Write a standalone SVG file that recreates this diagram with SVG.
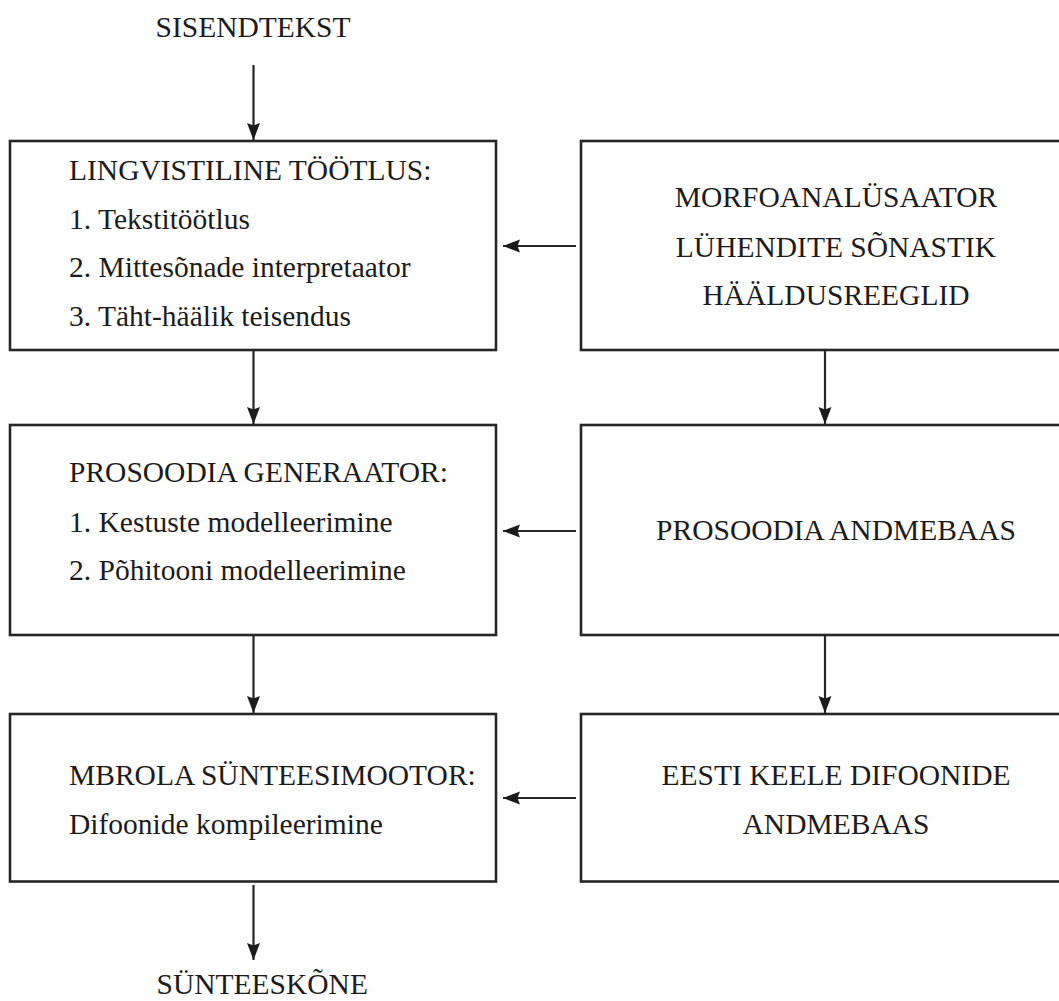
<svg xmlns="http://www.w3.org/2000/svg" width="1059" height="1001" viewBox="0 0 1059 1001">
  <style>
    .box { fill: #ffffff; stroke: #262626; stroke-width: 2.6; }
    .lbl { font-family: "Liberation Serif", "Times New Roman", serif; font-size: 29.5px; fill: #1c1c1c; }
    .mid { text-anchor: middle; }
    .conn { stroke: #262626; stroke-width: 2.2; fill: none; }
  </style>
  <defs>
    <marker id="arrow" markerUnits="userSpaceOnUse" markerWidth="18" markerHeight="14" refX="17" refY="7" orient="auto">
      <path d="M0,0.5 L17,7 L0,13.5 L2.5,7 z" fill="#1c1c1c"/>
    </marker>
  </defs>
  <rect width="1059" height="1001" fill="#ffffff"/>

  <g id="input">
    <text class="lbl" x="155.5" y="37">SISENDTEKST</text>
  </g>

  <g id="lingvistiline">
    <rect class="box" x="10" y="141" width="486" height="209"/>
    <text class="lbl" x="69" y="180">LINGVISTILINE TÖÖTLUS:</text>
    <text class="lbl" x="69" y="228.5">1. Tekstitöötlus</text>
    <text class="lbl" x="69" y="277">2. Mittesõnade interpretaator</text>
    <text class="lbl" x="69" y="325.5">3. Täht-häälik teisendus</text>
  </g>

  <g id="morfo">
    <rect class="box" x="581" y="141" width="510" height="209"/>
    <text class="lbl mid" x="836" y="207">MORFOANALÜSAATOR</text>
    <text class="lbl mid" x="836" y="256.5">LÜHENDITE SÕNASTIK</text>
    <text class="lbl mid" x="836" y="305">HÄÄLDUSREEGLID</text>
  </g>

  <g id="prosoodia-gen">
    <rect class="box" x="10" y="425" width="486" height="210"/>
    <text class="lbl" x="69" y="482">PROSOODIA GENERAATOR:</text>
    <text class="lbl" x="69" y="531.5">1. Kestuste modelleerimine</text>
    <text class="lbl" x="69" y="580">2. Põhitooni modelleerimine</text>
  </g>

  <g id="prosoodia-db">
    <rect class="box" x="581" y="425" width="510" height="210"/>
    <text class="lbl mid" x="836" y="540">PROSOODIA ANDMEBAAS</text>
  </g>

  <g id="mbrola">
    <rect class="box" x="10" y="714" width="486" height="167.5"/>
    <text class="lbl" x="69" y="785">MBROLA SÜNTEESIMOOTOR:</text>
    <text class="lbl" x="69" y="834">Difoonide kompileerimine</text>
  </g>

  <g id="difoonid">
    <rect class="box" x="581" y="714" width="510" height="167.5"/>
    <text class="lbl mid" x="836" y="785">EESTI KEELE DIFOONIDE</text>
    <text class="lbl mid" x="836" y="834">ANDMEBAAS</text>
  </g>

  <g id="output">
    <text class="lbl" x="156.5" y="994">SÜNTEESKÕNE</text>
  </g>

  <g id="connectors">
    <line class="conn" x1="253.5" y1="65" x2="253.5" y2="140" marker-end="url(#arrow)"/>
    <line class="conn" x1="253.5" y1="351" x2="253.5" y2="424" marker-end="url(#arrow)"/>
    <line class="conn" x1="253.5" y1="636" x2="253.5" y2="713" marker-end="url(#arrow)"/>
    <line class="conn" x1="253.5" y1="885" x2="253.5" y2="960" marker-end="url(#arrow)"/>
    <line class="conn" x1="825" y1="351" x2="825" y2="424" marker-end="url(#arrow)"/>
    <line class="conn" x1="825" y1="636" x2="825" y2="713" marker-end="url(#arrow)"/>
    <line class="conn" x1="576" y1="246" x2="503" y2="246" marker-end="url(#arrow)"/>
    <line class="conn" x1="576" y1="531" x2="503" y2="531" marker-end="url(#arrow)"/>
    <line class="conn" x1="576" y1="798" x2="503" y2="798" marker-end="url(#arrow)"/>
  </g>
</svg>
